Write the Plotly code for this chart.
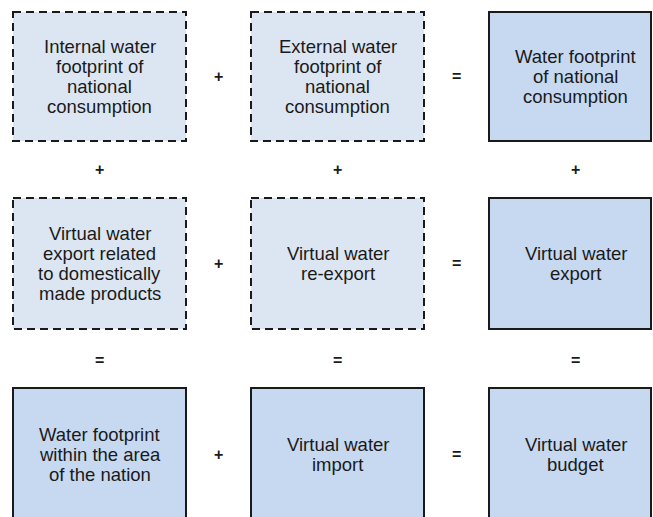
import plotly.graph_objects as go

# ---- content ----
box_labels = [
    ["Internal water<br>footprint of<br>national<br>consumption",
     "External water<br>footprint of<br>national<br>consumption",
     "Water footprint<br>of national<br>consumption"],
    ["Virtual water<br>export related<br>to domestically<br>made products",
     "Virtual water<br>re-export",
     "Virtual water<br>export"],
    ["Water footprint<br>within the area<br>of the nation",
     "Virtual water<br>import",
     "Virtual water<br>budget"],
]
box_dashed = [
    [True, True, False],
    [True, True, False],
    [False, False, False],
]
row_operators = [["+", "="], ["+", "="], ["+", "="]]      # between columns
col_operators = [["+", "+", "+"], ["=", "=", "="]]        # between rows

# ---- layout constants ----
W, H = 653, 517
col_left = [13, 251, 489]
box_w = 173
row_top = [12, 198, 388]
row_bot = [141, 329, 520]
line_h = 20
FILL_DASHED = "#dce6f2"
FILL_SOLID = "#c6d9f1"
EDGE = "#1a1a1a"
TXT = "#1a1a1a"
FONT = "Liberation Sans, Arial, sans-serif"

fig = go.Figure()
shapes = []
annotations = []

for r in range(3):
    for c in range(3):
        x0 = col_left[c]
        x1 = min(col_left[c] + box_w, W - 2)
        y0, y1 = row_top[r], row_bot[r]
        dashed = box_dashed[r][c]
        shapes.append(dict(
            type="rect", xref="x", yref="y", x0=x0, x1=x1, y0=y0, y1=y1,
            fillcolor=FILL_DASHED if dashed else FILL_SOLID,
            line=dict(color=EDGE, width=2, dash="8px,5px" if dashed else "solid"),
            layer="below",
        ))
        cx = col_left[c] + box_w / 2
        cy = (row_top[r] + row_bot[r]) / 2
        lines = box_labels[r][c].split("<br>")
        n = len(lines)
        for i, ln in enumerate(lines):
            annotations.append(dict(
                x=cx, y=cy + (i - (n - 1) / 2) * line_h, xref="x", yref="y",
                text=ln, showarrow=False, xanchor="center", yanchor="middle",
                font=dict(family=FONT, size=18.5, color=TXT),
            ))

# operators between columns
for r in range(3):
    cy = (row_top[r] + row_bot[r]) / 2
    for k, op in enumerate(row_operators[r]):
        ox = (col_left[k] + box_w + col_left[k + 1]) / 2
        annotations.append(dict(
            x=ox, y=cy, xref="x", yref="y", text="<b>%s</b>" % op,
            showarrow=False, xanchor="center", yanchor="middle",
            font=dict(family=FONT, size=16, color=TXT),
        ))

# operators between rows
for k in range(2):
    oy = (row_bot[k] + row_top[k + 1]) / 2 + (2 if k == 1 else 0)
    for c, op in enumerate(col_operators[k]):
        cx = col_left[c] + box_w / 2
        annotations.append(dict(
            x=cx, y=oy, xref="x", yref="y", text="<b>%s</b>" % op,
            showarrow=False, xanchor="center", yanchor="middle",
            font=dict(family=FONT, size=16, color=TXT),
        ))

fig.update_layout(
    width=W, height=H,
    margin=dict(l=0, r=0, t=0, b=0),
    paper_bgcolor="white", plot_bgcolor="white",
    xaxis=dict(range=[0, W], visible=False, fixedrange=True),
    yaxis=dict(range=[H, 0], visible=False, fixedrange=True),
    shapes=shapes, annotations=annotations,
    showlegend=False,
)

fig.write_html(
    "out.html",
    config={"displayModeBar": False, "staticPlot": True},
    post_script="document.body.style.margin='0';document.body.style.overflow='hidden';",
)
